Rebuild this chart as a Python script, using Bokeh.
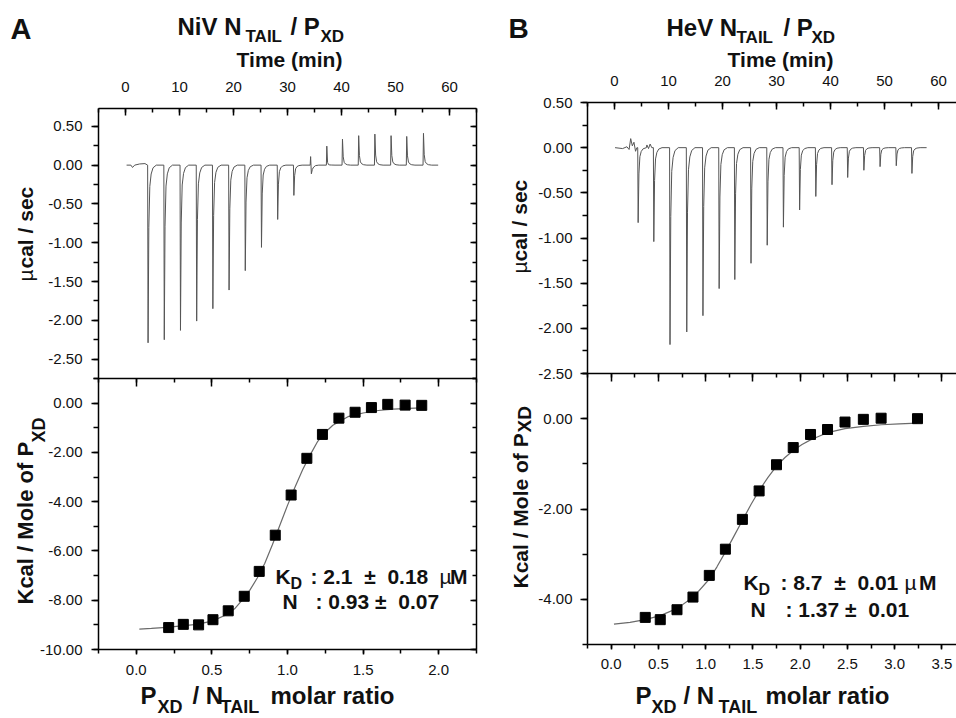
from math import pi
from bokeh.plotting import figure
from bokeh.models import LinearAxis, SingleIntervalTicker, PrintfTickFormatter, Label, Range1d
from bokeh.embed import file_html
from bokeh.resources import INLINE

FONT = "Liberation Sans"
W, H = 956, 718
NB = "\u00a0"  # non-breaking space (keeps double spaces in SVG text)

# ---------------- data ----------------
# Panel A (NiV N_TAIL / P_XD) raw thermogram: injection times (min), peak heights (ucal/sec)
inj_time_A = [4.1, 7.1, 10.1, 13.1, 16.1, 19.1, 22.1, 25.1, 28.1, 31.1, 34.2, 37.2, 40.1, 43.1, 46.1, 49.1, 52.0, 55.1]
peak_A = [-2.29, -2.25, -2.13, -2.01, -1.85, -1.61, -1.36, -1.06, -0.70, -0.39, 0.11, 0.245, 0.335, 0.38, 0.40, 0.38, 0.37, 0.41]
dip_A = [0, 0, 0, 0, 0, 0, 0, 0, 0, 0, -0.15, -0.05, -0.01, -0.01, -0.01, -0.01, -0.01, -0.01]
base_t_A = [0.2, 1.0, 1.3, 1.7, 2.6, 3.6, 57.9]
base_y_A = [0.0, 0.0, -0.03, 0.0, 0.015, 0.02, 0.0]

# Panel B (HeV N_TAIL / P_XD) raw thermogram
inj_time_B = [4.3, 7.2, 10.2, 13.3, 16.3, 19.3, 22.2, 25.2, 28.2, 31.2, 34.2, 37.2, 40.2, 43.1, 46.1, 49.1, 52.1, 55.0]
peak_B = [-0.83, -1.04, -2.18, -2.04, -1.86, -1.56, -1.46, -1.28, -1.08, -0.88, -0.69, -0.54, -0.41, -0.33, -0.25, -0.21, -0.20, -0.285]
dip_B = [0] * 18
base_t_B = [0.1, 1.5, 2.3, 2.7, 3.0, 3.3, 3.6, 3.9, 4.15, 6.0, 6.3, 6.6, 6.9, 57.8]
base_y_B = [0.0, -0.01, 0.01, -0.02, 0.10, 0.02, 0.06, -0.04, 0.0, 0.03, -0.01, 0.04, 0.0, 0.0]

# shape of one injection peak (fraction of peak height vs minutes after injection)
prof_dt = [0.0, 0.08, 0.22, 0.4, 0.65, 1.0, 1.6]
prof_main = [0.0, 1.0, 0.35, 0.12, 0.05, 0.015, 0.0]
prof_dip = [0.0, 0.0, 1.0, 0.45, 0.2, 0.05, 0.0]

# Integrated heats (kcal/mole of P_XD) vs molar ratio, with fitted curve
ratio_A = [0.214, 0.311, 0.412, 0.507, 0.608, 0.714, 0.813, 0.919, 1.024, 1.128, 1.231, 1.340, 1.447, 1.555, 1.663, 1.778, 1.888]
heat_A = [-9.11, -8.98, -9.00, -8.79, -8.43, -7.84, -6.83, -5.36, -3.73, -2.24, -1.27, -0.61, -0.37, -0.18, -0.05, -0.08, -0.09]
fit_x_A = [0.02, 0.1, 0.2, 0.3, 0.4, 0.5, 0.6, 0.65, 0.7, 0.75, 0.8, 0.85, 0.9, 0.95, 1.0, 1.05, 1.1, 1.15, 1.2, 1.25, 1.3, 1.4, 1.5, 1.6, 1.7, 1.8, 1.89]
fit_y_A = [-9.17, -9.14, -9.10, -9.04, -8.98, -8.85, -8.58, -8.35, -8.0, -7.6, -7.1, -6.5, -5.75, -4.95, -4.15, -3.4, -2.7, -2.1, -1.55, -1.18, -0.9, -0.55, -0.40, -0.30, -0.24, -0.21, -0.19]

ratio_B = [0.361, 0.520, 0.697, 0.866, 1.039, 1.209, 1.389, 1.566, 1.750, 1.927, 2.110, 2.290, 2.475, 2.669, 2.857, 3.242]
heat_B = [-4.40, -4.45, -4.23, -3.95, -3.47, -2.89, -2.23, -1.60, -1.02, -0.64, -0.35, -0.24, -0.075, -0.015, 0.01, 0.0]
fit_x_B = [0.03, 0.2, 0.36, 0.52, 0.7, 0.87, 1.04, 1.12, 1.21, 1.3, 1.39, 1.48, 1.57, 1.66, 1.75, 1.84, 1.93, 2.02, 2.11, 2.2, 2.29, 2.475, 2.67, 2.86, 3.05, 3.24]
fit_y_B = [-4.55, -4.51, -4.45, -4.36, -4.20, -3.95, -3.55, -3.28, -2.95, -2.6, -2.25, -1.9, -1.58, -1.3, -1.05, -0.86, -0.70, -0.57, -0.47, -0.39, -0.31, -0.22, -0.17, -0.135, -0.115, -0.10]

# axis limits of the four boxes
time_lim = (-5, 65)
ucal_lim_A = (-2.75, 0.73)
ucal_lim_B = (-2.5, 0.5)
ratio_lim_A = (-0.25, 2.25)
ratio_lim_B = (-0.25, 3.75)
heat_lim_A = (-10, 1)
heat_lim_B = (-5, 1)


# ---------------- helpers ----------------
def build_trace(times, peaks, dips, bt, by):
    pts = list(zip(bt, by))
    for t0, pk, dp in zip(times, peaks, dips):
        for dt, fm, fd in zip(prof_dt, prof_main, prof_dip):
            pts.append((t0 + dt, pk * fm + dp * fd))
    pts.sort()
    return [q[0] for q in pts], [q[1] for q in pts]


def xrange_for(lim, px_lo, px_hi):
    lo, hi = lim
    s = (hi - lo) / (px_hi - px_lo)
    return Range1d(lo - px_lo * s, hi + (W - px_hi) * s)


def yrange_for(lim, px_top, px_bot):
    lo, hi = lim
    s = (hi - lo) / (px_bot - px_top)
    return Range1d(lo - (H - px_bot) * s, hi + px_top * s)


p = figure(width=W, height=H, x_range=(0, W), y_range=(-H, 0), output_backend="svg",
           toolbar_location=None, x_axis_type=None, y_axis_type=None,
           min_border=0, min_border_left=0, min_border_right=0, min_border_top=0, min_border_bottom=0)
p.title.visible = False
p.outline_line_color = None
p.background_fill_color = "white"
p.border_fill_color = "white"

# box pixel positions (canvas pixels)
p.extra_x_ranges = {
    "tA": xrange_for(time_lim, 98, 476),
    "rA": xrange_for(ratio_lim_A, 98, 476),
    "tB": xrange_for(time_lim, 587, 965),
    "rB": xrange_for(ratio_lim_B, 587, 965),
}
p.extra_y_ranges = {
    "uA": yrange_for(ucal_lim_A, 108, 378),
    "hA": yrange_for(heat_lim_A, 378, 649),
    "uB": yrange_for(ucal_lim_B, 102, 373),
    "hB": yrange_for(heat_lim_B, 373, 644),
}


def axis(side, xname, yname, loc, bounds, interval, fmt, tin, tout, mtin, mtout, standoff, labels=True):
    ax = LinearAxis(x_range_name=xname, y_range_name=yname, fixed_location=loc, bounds=bounds,
                    ticker=SingleIntervalTicker(interval=interval, num_minor_ticks=2),
                    formatter=PrintfTickFormatter(format=fmt))
    ax.major_tick_in = tin
    ax.major_tick_out = tout
    ax.minor_tick_in = mtin
    ax.minor_tick_out = mtout
    ax.axis_line_color = "black"
    ax.axis_line_width = 1.5
    ax.major_tick_line_color = "black"
    ax.major_tick_line_width = 1.5
    ax.minor_tick_line_color = "black"
    ax.minor_tick_line_width = 1.5
    ax.major_label_standoff = standoff
    ax.major_label_text_font = FONT
    ax.major_label_text_font_size = "15px"
    ax.major_label_text_color = "#111111" if labels else None
    p.add_layout(ax, side)
    return ax


MID = 0.36  # distance from baseline to the middle of the text box, in em


def label(px, py, text, size, bold=True, rotated=False, align="left"):
    # (px, py): position of the text baseline (canvas pixels)
    if rotated:
        x, y, ang = px - MID * size, py, pi / 2
    else:
        x, y, ang = px, py - MID * size, 0.0
    p.add_layout(Label(x=x, y=-y, text=text, text_font=FONT, text_font_size=f"{size}px",
                       text_font_style="bold" if bold else "normal", angle=ang,
                       text_align=align, text_baseline="middle", text_color="#111111"))


TRACE = "#555555"
FIT = "#6a6a6a"

# ---------------- Panel A ----------------
ta, ya = build_trace(inj_time_A, peak_A, dip_A, base_t_A, base_y_A)
p.line(ta, ya, line_color=TRACE, line_width=1, x_range_name="tA", y_range_name="uA")
axis("above", "tA", "uA", ucal_lim_A[1], time_lim, 10, "%d", 7, 0, 4, 0, 17)
axis("left", "tA", "uA", time_lim[0], ucal_lim_A, 0.5, "%.2f", 0, 7, 0, 5, 9)
axis("right", "tA", "uA", time_lim[1], ucal_lim_A, 0.5, "%.2f", 6, 0, 4, 0, 0, labels=False)

p.line(fit_x_A, fit_y_A, line_color=FIT, line_width=1.2, x_range_name="rA", y_range_name="hA")
p.scatter(ratio_A, heat_A, marker="square", size=10, color="black", x_range_name="rA", y_range_name="hA")
axis("below", "rA", "hA", heat_lim_A[0], ratio_lim_A, 0.5, "%.1f", 0, 5, 0, 4, 10)
axis("above", "rA", "hA", heat_lim_A[1], ratio_lim_A, 0.5, "%.1f", 8, 0, 4, 0, 0, labels=False)
axis("left", "rA", "hA", ratio_lim_A[0], heat_lim_A, 2, "%.2f", 0, 7, 0, 5, 9)
axis("right", "rA", "hA", ratio_lim_A[1], heat_lim_A, 2, "%.2f", 6, 0, 4, 0, 0, labels=False)

label(10, 39, "A", 29)
label(177, 35, "NiV N", 24)
label(245, 42, "TAIL", 17)
label(290, 35, "/ P", 24)
label(320, 42, "XD", 17)
label(289, 67, "Time (min)", 21, align="center")
label(33, 281, "\u00b5", 21, bold=False, rotated=True)
label(33, 268, "cal / sec", 21, rotated=True)
label(33, 604, "Kcal / Mole of P", 22, rotated=True)
label(45, 442, "XD", 18, rotated=True)
label(140, 704, "P", 24)
label(157, 713, "XD", 18)
label(192, 704, "/ N", 24)
label(220, 713, "TAIL", 18)
label(270, 704, "molar ratio", 24)
label(275, 584, "K", 21)
label(290, 589, "D", 16)
label(310, 584, f":{NB}2.1{NB}{NB}\u00b1{NB}{NB}0.18", 21)
label(451, 584, "\u00b5", 21, bold=False, align="right")
label(467, 584, "M", 21, align="right")
label(282, 609, "N", 21)
label(315, 609, f":{NB}0.93{NB}\u00b1{NB}{NB}0.07", 21)

# ---------------- Panel B ----------------
tb, yb = build_trace(inj_time_B, peak_B, dip_B, base_t_B, base_y_B)
p.line(tb, yb, line_color=TRACE, line_width=1, x_range_name="tB", y_range_name="uB")
axis("above", "tB", "uB", ucal_lim_B[1], time_lim, 10, "%d", 7, 0, 4, 0, 17)
axis("left", "tB", "uB", time_lim[0], ucal_lim_B, 0.5, "%.2f", 0, 7, 0, 5, 8)

p.line(fit_x_B, fit_y_B, line_color=FIT, line_width=1.2, x_range_name="rB", y_range_name="hB")
p.scatter(ratio_B, heat_B, marker="square", size=10, color="black", x_range_name="rB", y_range_name="hB")
axis("below", "rB", "hB", heat_lim_B[0], ratio_lim_B, 0.5, "%.1f", 0, 5, 0, 4, 9)
axis("above", "rB", "hB", heat_lim_B[1], ratio_lim_B, 0.5, "%.1f", 8, 0, 4, 0, 0, labels=False)
axis("left", "rB", "hB", ratio_lim_B[0], heat_lim_B, 2, "%.2f", 0, 7, 0, 5, 8)

label(508, 38, "B", 28)
label(666, 36, "HeV N", 24)
label(736, 43, "TAIL", 17)
label(783, 36, "/ P", 24)
label(811, 43, "XD", 17)
label(780, 67, "Time (min)", 21, align="center")
label(527, 273, "\u00b5", 21, bold=False, rotated=True)
label(527, 261, "cal / sec", 21, rotated=True)
label(528, 588, "Kcal / Mole of P", 21, rotated=True)
label(531, 432, "XD", 19, rotated=True)
label(635, 704, "P", 24)
label(651, 713, "XD", 18)
label(683, 704, "/ N", 24)
label(718, 713, "TAIL", 18)
label(765, 704, "molar ratio", 24)
label(743, 590, "K", 21)
label(758, 595, "D", 16)
label(780, 590, f":{NB}8.7{NB}{NB}\u00b1{NB}{NB}0.01", 21)
label(916, 590, "\u00b5", 21, bold=False, align="right")
label(936, 590, "M", 21, align="right")
label(750, 617, "N", 21)
label(785, 617, f":{NB}1.37{NB}\u00b1{NB}{NB}0.01", 21)

open("out.html", "w").write(file_html(p, INLINE))
